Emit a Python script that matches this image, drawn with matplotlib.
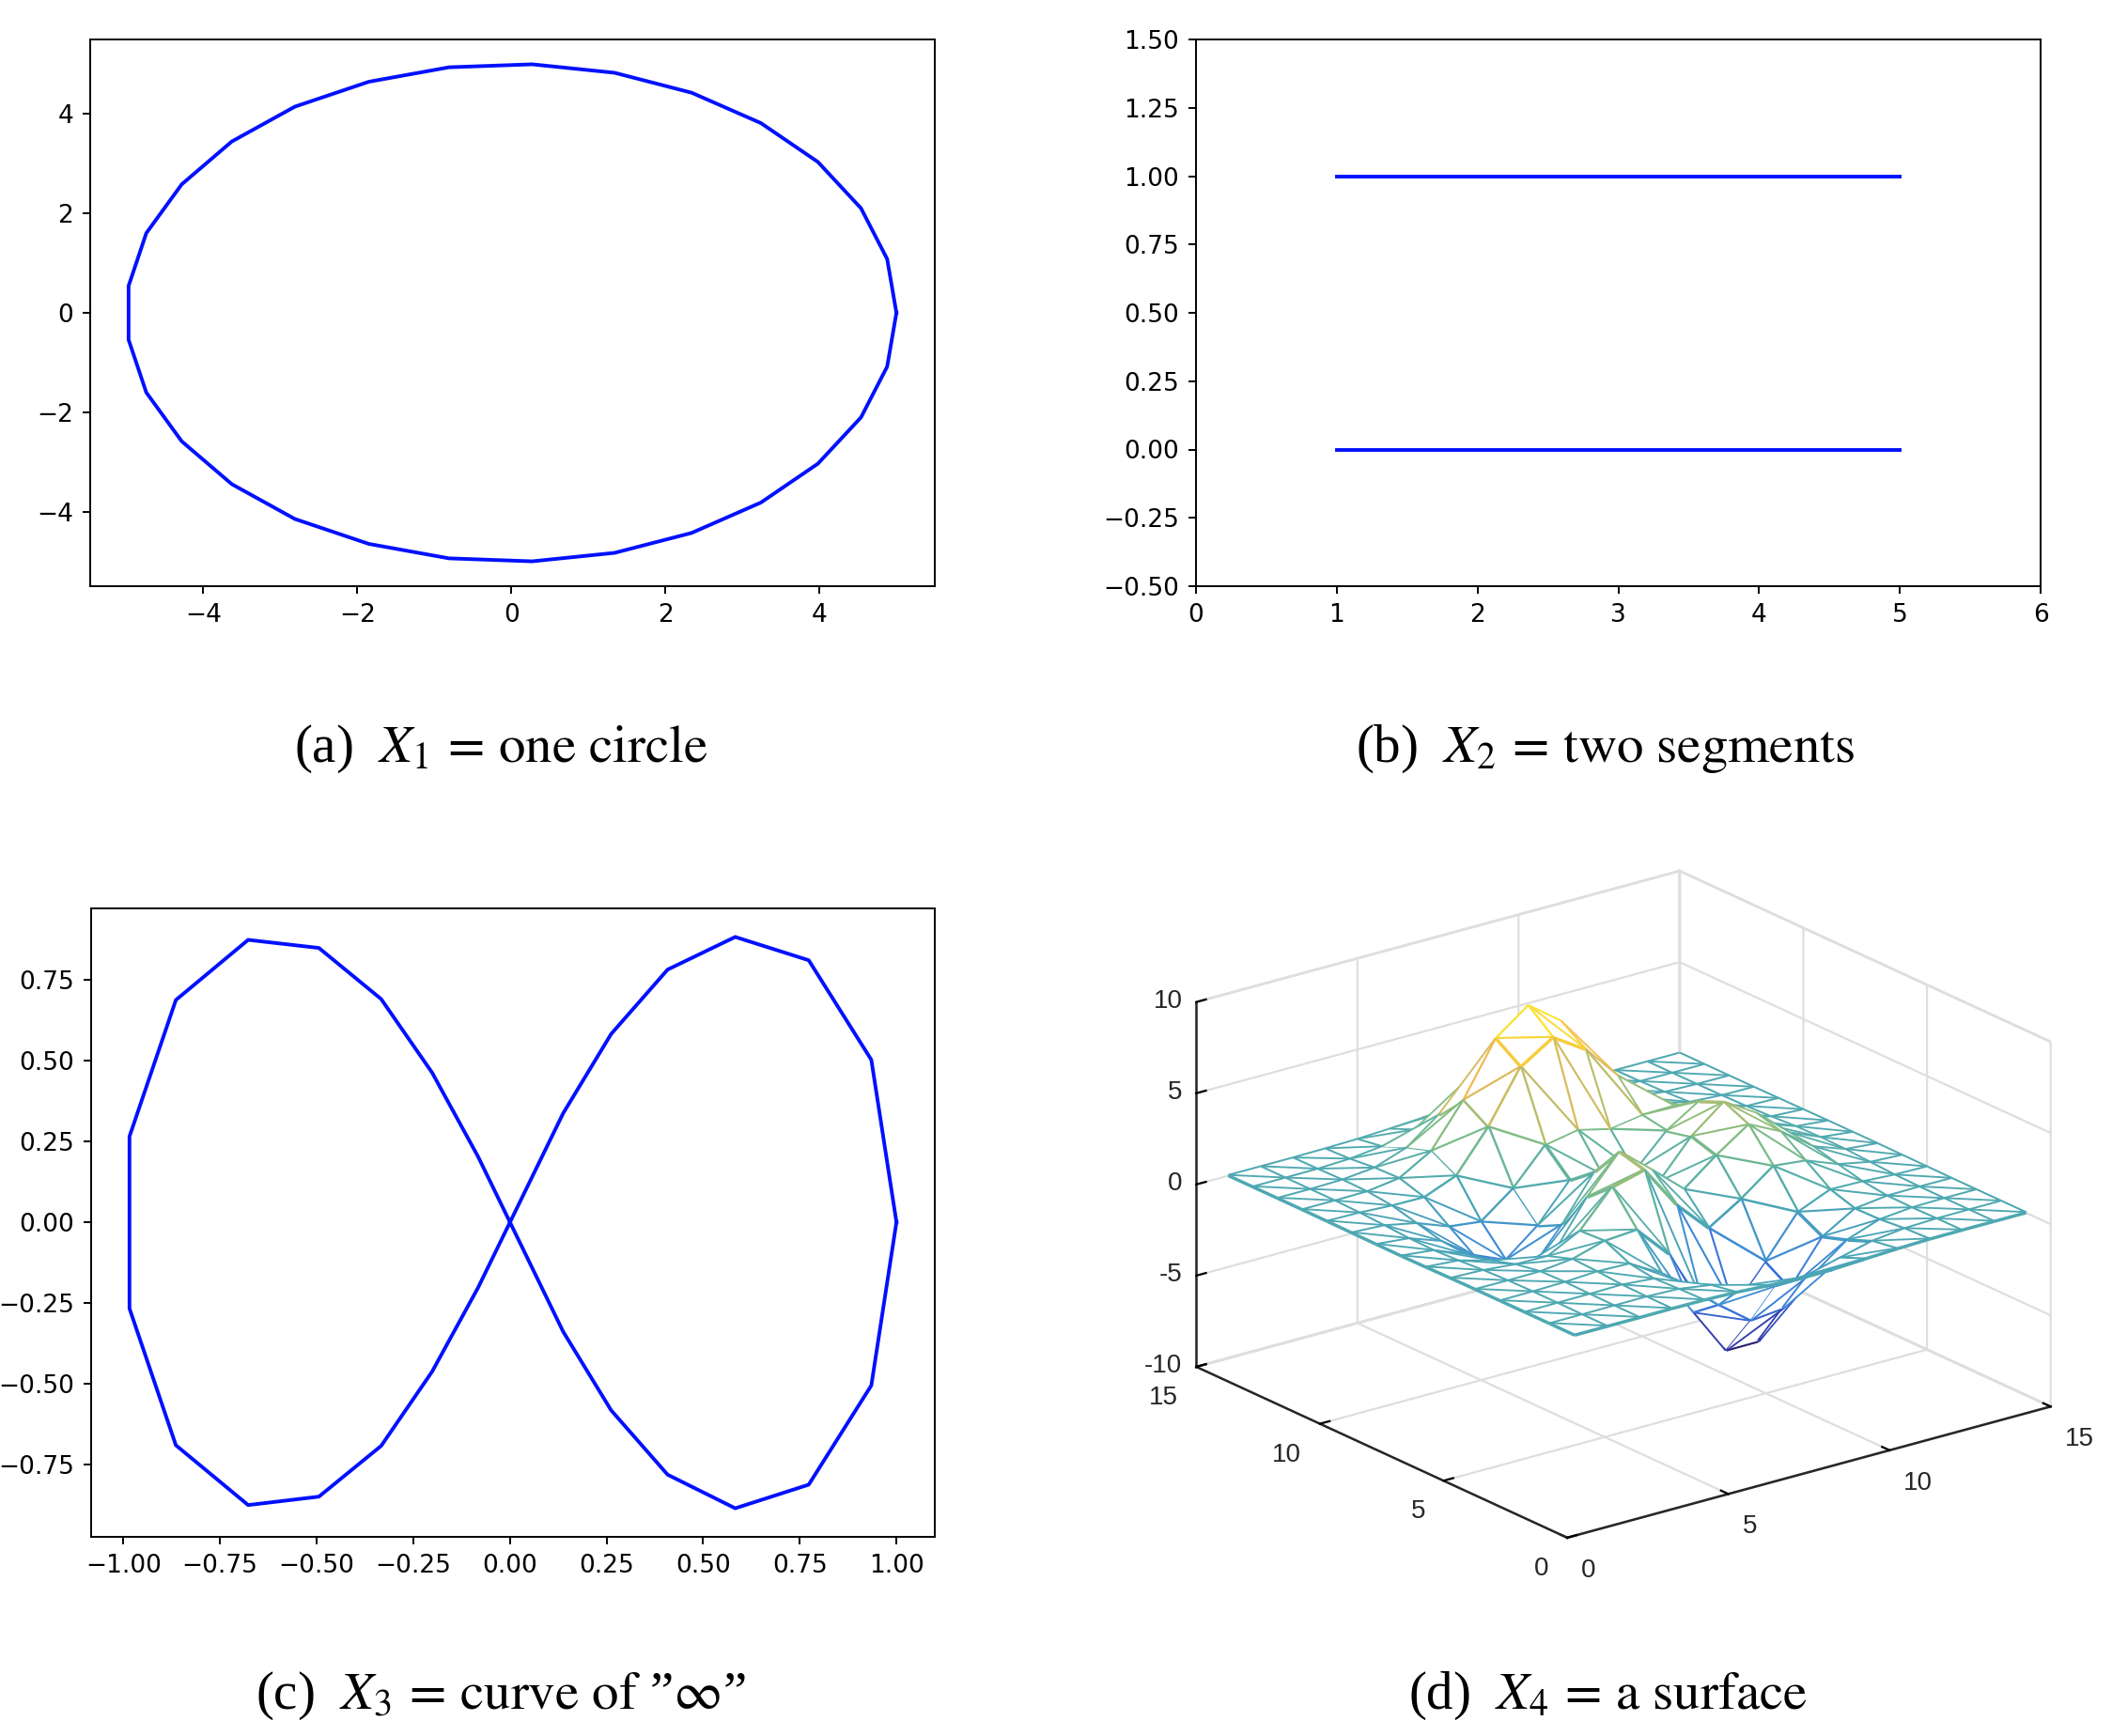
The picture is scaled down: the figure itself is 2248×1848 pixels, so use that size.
import numpy as np
import matplotlib
matplotlib.use('Agg')
import matplotlib.pyplot as plt
from matplotlib.colors import LinearSegmentedColormap, Normalize
from mpl_toolkits.mplot3d.art3d import Poly3DCollection
from mpl_toolkits.mplot3d import proj3d

plt.rcParams['font.family'] = ['DejaVu Sans']
plt.rcParams['mathtext.fontset'] = 'stix'

# ---------------- data ----------------
# (a) one circle
circle_x = [5.00, 4.88, 4.54, 3.98, 3.24, 2.34, 1.34, 0.27, -0.81, -1.85,
            -2.81, -3.63, -4.28, -4.74, -4.97, -4.97, -4.74, -4.28, -3.63, -2.81,
            -1.85, -0.81, 0.27, 1.34, 2.34, 3.24, 3.98, 4.54, 4.88, 5.00]
circle_y = [0.00, 1.08, 2.10, 3.03, 3.81, 4.42, 4.82, 4.99, 4.93, 4.64,
            4.14, 3.44, 2.58, 1.60, 0.54, -0.54, -1.60, -2.58, -3.44, -4.14,
            -4.64, -4.93, -4.99, -4.82, -4.42, -3.81, -3.03, -2.10, -1.08, 0.00]

# (b) two segments
seg_x = [1, 5]
seg_low_y = [0, 0]
seg_high_y = [1, 1]

# (c) curve of "infinity"
inf_x = [1.00, 0.935, 0.773, 0.583, 0.408, 0.262, 0.138, -0.082, -0.201, -0.333,
         -0.494, -0.677, -0.864, -0.984, -0.984, -0.864, -0.677, -0.494, -0.333, -0.201,
         -0.082, 0.138, 0.262, 0.408, 0.583, 0.773, 0.935, 1.00]
inf_y = [0.00, 0.502, 0.810, 0.882, 0.781, 0.582, 0.337, -0.202, -0.462, -0.692,
         -0.849, -0.875, -0.690, -0.267, 0.265, 0.687, 0.873, 0.848, 0.690, 0.462,
         0.202, -0.339, -0.582, -0.781, -0.885, -0.812, -0.505, 0.00]

# (d) a surface (15 x 15 grid of heights, rows = y index, columns = x index)
surf_x = [1, 2, 3, 4, 5, 6, 7, 8, 9, 10, 11, 12, 13, 14, 15]
surf_y = [1, 2, 3, 4, 5, 6, 7, 8, 9, 10, 11, 12, 13, 14, 15]
surf_z = [
    [0.00, 0.00, 0.00, 0.01, 0.00, -0.05, -0.16, -0.24, -0.23, -0.14, -0.06, -0.01, 0.00, 0.00, 0.00],
    [0.00, 0.00, 0.01, 0.02, -0.04, -0.31, -0.82, -1.25, -1.18, -0.72, -0.28, -0.07, -0.01, 0.00, 0.00],
    [0.00, 0.01, 0.02, 0.05, -0.10, -0.88, -2.43, -3.77, -3.59, -2.17, -0.83, -0.20, -0.03, 0.00, 0.00],
    [0.00, 0.01, 0.05, 0.15, 0.10, -0.91, -3.47, -6.04, -6.03, -3.62, -1.28, -0.23, -0.01, 0.01, 0.00],
    [0.00, -0.01, 0.01, 0.21, 0.73, 0.86, -0.94, -3.99, -4.87, -2.78, -0.56, 0.19, 0.15, 0.04, 0.01],
    [-0.01, -0.07, -0.23, -0.26, 0.65, 2.59, 3.06, 0.66, -1.10, 0.01, 1.34, 1.15, 0.47, 0.11, 0.02],
    [-0.03, -0.17, -0.65, -1.40, -1.09, 1.42, 3.42, 1.94, 0.40, 1.78, 2.99, 2.12, 0.82, 0.19, 0.03],
    [-0.04, -0.23, -0.93, -2.25, -2.78, -0.70, 1.69, 0.98, 0.20, 2.20, 3.60, 2.51, 0.97, 0.22, 0.03],
    [-0.03, -0.20, -0.83, -2.07, -2.82, -1.40, 0.61, 0.41, 0.12, 1.88, 3.01, 2.08, 0.80, 0.19, 0.03],
    [-0.02, -0.11, -0.47, -1.13, -1.34, 0.01, 1.92, 2.26, 1.83, 2.11, 2.14, 1.31, 0.48, 0.11, 0.02],
    [-0.01, -0.04, -0.13, -0.15, 0.56, 2.77, 5.59, 6.72, 5.59, 3.65, 1.97, 0.83, 0.25, 0.05, 0.01],
    [0.00, 0.00, 0.02, 0.27, 1.30, 3.62, 6.51, 7.83, 6.51, 3.87, 1.69, 0.55, 0.13, 0.02, 0.00],
    [0.00, 0.00, 0.04, 0.22, 0.84, 2.17, 3.81, 4.58, 3.81, 2.22, 0.91, 0.27, 0.06, 0.01, 0.00],
    [0.00, 0.00, 0.01, 0.08, 0.28, 0.72, 1.25, 1.51, 1.25, 0.73, 0.29, 0.08, 0.02, 0.00, 0.00],
    [0.00, 0.00, 0.00, 0.02, 0.06, 0.14, 0.25, 0.30, 0.25, 0.14, 0.06, 0.02, 0.00, 0.00, 0.00],
]

captions = [r'(a)$\ \ X_1\,=\,\mathrm{one\ circle}$',
            r'(b)$\ \ X_2\,=\,\mathrm{two\ segments}$',
            '(c)$\\ \\ X_3\\,=\\,\\mathrm{curve\\ of}$ \u201d$\\infty$\u201d',
            r'(d)$\ \ X_4\,=\,\mathrm{a\ surface}$']

# ---------------- styling ----------------
LINE_BLUE = '#0010ff'
mesh_cmap = LinearSegmentedColormap.from_list('parula_like', [
    (0.00, (0.17, 0.12, 0.42)),
    (0.10, (0.20, 0.26, 0.72)),
    (0.20, (0.21, 0.43, 0.86)),
    (0.30, (0.25, 0.56, 0.83)),
    (0.40, (0.28, 0.64, 0.72)),
    (0.50, (0.35, 0.69, 0.65)),
    (0.60, (0.50, 0.74, 0.52)),
    (0.70, (0.72, 0.74, 0.42)),
    (0.80, (0.94, 0.73, 0.32)),
    (0.90, (0.98, 0.82, 0.22)),
    (1.00, (0.98, 0.95, 0.18)),
])

W, H = 2248, 1848
fig = plt.figure(figsize=(W / 200, H / 200), dpi=200)


def style2d(ax):
    ax.tick_params(labelsize=9.5, length=2.9, width=0.7)
    for s in ax.spines.values():
        s.set_linewidth(0.7)


# (a)
ax1 = fig.add_axes([96 / W, 1 - 624 / H, 899 / W, 582 / H])
ax1.plot(circle_x, circle_y, color=LINE_BLUE, lw=1.4)
ax1.set_xticks([-4, -2, 0, 2, 4])
ax1.set_yticks([-4, -2, 0, 2, 4])
style2d(ax1)

# (b)
ax2 = fig.add_axes([1273 / W, 1 - 624 / H, 899 / W, 582 / H])
ax2.plot(seg_x, seg_low_y, color=LINE_BLUE, lw=1.4)
ax2.plot(seg_x, seg_high_y, color=LINE_BLUE, lw=1.4)
ax2.set_xlim(0, 6)
ax2.set_ylim(-0.5, 1.5)
ax2.set_xticks([0, 1, 2, 3, 4, 5, 6])
ax2.set_yticks([-0.5, -0.25, 0, 0.25, 0.5, 0.75, 1.0, 1.25, 1.5])
style2d(ax2)

# (c)
ax3 = fig.add_axes([97 / W, 1 - 1636 / H, 898 / W, 669 / H])
ax3.plot(inf_x, inf_y, color=LINE_BLUE, lw=1.4)
ax3.set_xticks([-1.0, -0.75, -0.5, -0.25, 0, 0.25, 0.5, 0.75, 1.0])
ax3.set_yticks([-0.75, -0.5, -0.25, 0, 0.25, 0.5, 0.75])
style2d(ax3)

# (d)
plt.rcParams['grid.color'] = '#dedede'
plt.rcParams['grid.linewidth'] = 0.8
ax4 = fig.add_axes([0.52, 0.05, 0.48, 0.55], projection='3d', proj_type='ortho')
ax4.set_facecolor('none')
ax4.view_init(elev=20.7, azim=-127.5)
ax4.set_box_aspect((1, 1, 0.64))

Xg, Yg = np.meshgrid(surf_x, surf_y)
Zg = np.array(surf_z, dtype=float)
norm = Normalize(Zg.min(), Zg.max())


def P(q):
    return np.array([Xg[q[1], q[0]], Yg[q[1], q[0]], Zg[q[1], q[0]]], dtype=float)


faces, edges, ecols = [], [], []
nx, ny = len(surf_x), len(surf_y)
for j in range(ny - 1):
    for i in range(nx - 1):
        a, b, c, d = (i, j), (i + 1, j), (i, j + 1), (i + 1, j + 1)
        for tri in ((a, b, c), (b, d, c)):
            v = np.array([P(q) for q in tri])
            cen = v.mean(axis=0)
            faces.append(cen + 0.96 * (v - cen))
edge_pairs = []
for j in range(ny):
    for i in range(nx):
        if i < nx - 1:
            edge_pairs.append(((i, j), (i + 1, j)))
        if j < ny - 1:
            edge_pairs.append(((i, j), (i, j + 1)))
        if i < nx - 1 and j < ny - 1:
            edge_pairs.append(((i + 1, j), (i, j + 1)))
for p, q in edge_pairs:
    v = np.array([P(p), P(q)])
    edges.append(v)
    ecols.append(mesh_cmap(norm(v[:, 2].mean())))

polys = faces + edges
fcols = [(1, 1, 1, 1)] * len(faces) + [(1, 1, 1, 0)] * len(edges)
lcols = [(1, 1, 1, 0)] * len(faces) + ecols
mesh = Poly3DCollection(polys, facecolors=fcols, edgecolors=lcols, linewidths=1.25)
ax4.add_collection3d(mesh)

ax4.set_xlim(0, 15)
ax4.set_ylim(0, 15)
ax4.set_zlim(-10, 10)
tfont = dict(fontfamily='Liberation Sans', fontsize=10, color='#262626')
ax4.set_xticks([0, 5, 10, 15], labels=['0', '5', '10', '15'], ha='left', **tfont)
ax4.set_yticks([0, 5, 10, 15], labels=['0', '5', '10', '15'], ha='right', **tfont)
ax4.set_zticks([-10, -5, 0, 5, 10], labels=['-10', '-5', '0', '5', '10'],
               ha='right', va='center', **tfont)
ax4.tick_params(axis='x', pad=-1)
ax4.tick_params(axis='y', pad=-1)
ax4.tick_params(axis='z', pad=-5)
for axis in (ax4.xaxis, ax4.yaxis, ax4.zaxis):
    axis.set_pane_color((1, 1, 1, 1))
    axis.pane.set_edgecolor('#dedede')
    axis.line.set_color('#262626')
    axis.line.set_linewidth(0.9)
    axis._axinfo['grid'].update(color='#dedede', linewidth=0.8)
    axis._axinfo['tick'].update(inward_factor=0.0, outward_factor=0.25)

# fit the projected box onto its place in the figure
corners = [(0, 15, -10), (0, 0, -10), (15, 0, -10), (15, 15, 10), (0, 15, 10)]
target = np.array([(1276, 1455), (1663, 1639), (2180, 1498), (1788, 925), (1276, 1064)], float)
target[:, 1] = H - target[:, 1]
for _ in range(4):
    fig.canvas.draw()
    M = ax4.get_proj()
    pts = []
    for (x, y, z) in corners:
        xs, ys, _z = proj3d.proj_transform(x, y, z, M)
        pts.append(ax4.transData.transform((xs, ys)))
    pts = np.array(pts)
    cw = pts[:, 0].max() - pts[:, 0].min()
    ch = pts[:, 1].max() - pts[:, 1].min()
    tw = target[:, 0].max() - target[:, 0].min()
    th = target[:, 1].max() - target[:, 1].min()
    s = 0.5 * (tw / cw + th / ch)
    bc = np.array([(pts[:, 0].max() + pts[:, 0].min()) / 2, (pts[:, 1].max() + pts[:, 1].min()) / 2])
    tc = np.array([(target[:, 0].max() + target[:, 0].min()) / 2, (target[:, 1].max() + target[:, 1].min()) / 2])
    bb = ax4.get_position()
    ac = np.array([(bb.x0 + bb.width / 2) * W, (bb.y0 + bb.height / 2) * H])
    nw, nh = bb.width * s, bb.height * s
    nc = tc - (bc - ac) * s
    ax4.set_position([nc[0] / W - nw / 2, nc[1] / H - nh / 2, nw, nh])

# captions
cap_font = dict(fontfamily='Liberation Serif', fontsize=20.5, ha='center', va='baseline')
fig.text(533 / W, 1 - 811 / H, captions[0], **cap_font)
fig.text(1709 / W, 1 - 811 / H, captions[1], **cap_font)
fig.text(533 / W, 1 - 1819 / H, captions[2], **cap_font)
fig.text(1711 / W, 1 - 1819 / H, captions[3], **cap_font)

fig.savefig('out.png', dpi=200, facecolor='white')
